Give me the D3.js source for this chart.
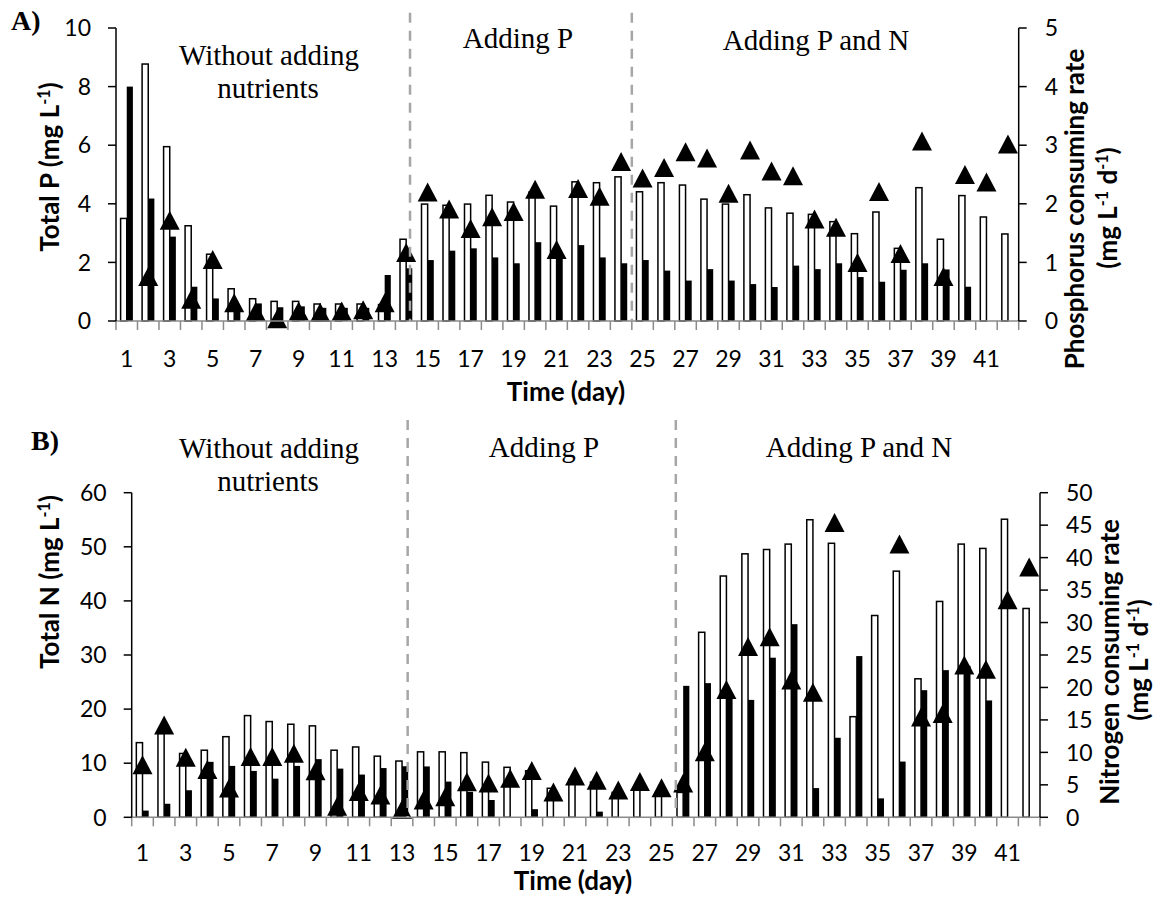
<!DOCTYPE html>
<html>
<head>
<meta charset="utf-8">
<script src="https://cdn.jsdelivr.net/npm/d3@7"></script>
<style>
  html, body { margin: 0; padding: 0; background: #fff; }
  svg { display: block; }
</style>
</head>
<body>
<svg id="chart" width="1161" height="899"></svg>
<script>
// ---- Data ---------------------------------------------------------------
const days = d3.range(1, 43);
const dayTickLabels = d3.range(1, 42, 2);

// Panel A: phosphorus
const totalP_open = [3.5, 8.77, 5.95, 3.25, 2.28, 1.10, 0.76, 0.67, 0.67, 0.58, 0.58, 0.58, 0.56, 2.79,
  3.99, 3.95, 3.99, 4.29, 4.06, 4.4, 3.92, 4.75, 4.72, 4.92, 4.41, 4.72, 4.64, 4.16,
  3.99, 4.31, 3.86, 3.68, 3.64, 3.39, 2.98, 3.72, 2.48, 4.55, 2.79, 4.28, 3.55, 2.97];
const totalP_filled = [8.0, 4.18, 2.88, 1.17, 0.77, 0.45, 0.6, 0.47, 0.5, 0.45, 0.45, 0.45, 1.57, 1.8,
  2.08, 2.4, 2.48, 2.17, 1.97, 2.69, 2.2, 2.59, 2.17, 1.97, 2.08, 1.72, 1.38, 1.77,
  1.38, 1.26, 1.16, 1.89, 1.77, 1.97, 1.5, 1.34, 1.75, 1.97, 1.76, 1.17, null, null];
const pRate = [null, 0.76, 1.72, 0.37, 1.05, 0.31, 0.16, 0.04, 0.17, 0.15, 0.17, 0.19, 0.31, 1.17,
  2.20, 1.91, 1.58, 1.78, 1.87, 2.25, 1.22, 2.26, 2.13, 2.72, 2.44, 2.62, 2.89, 2.78,
  2.18, 2.92, 2.56, 2.48, 1.74, 1.60, 1.00, 2.21, 1.15, 3.07, 0.76, 2.50, 2.37, 3.02];
const pLeftTicks = [0, 2, 4, 6, 8, 10];
const pRightTicks = [0, 1, 2, 3, 4, 5];

// Panel B: nitrogen
const totalN_open = [13.8, 15.5, 11.8, 12.4, 14.9, 18.8, 17.7, 17.2, 16.9, 12.4, 13.0, 11.3, 10.4, 12.1,
  12.1, 11.95, 10.2, 9.24, 8.6, 5.36, 7.0, 6.5, 4.6, 5.6, 4.6, 4.6, 34.2, 44.6,
  48.7, 49.5, 50.5, 55.0, 50.65, 18.6, 37.3, 45.5, 25.6, 39.9, 50.5, 49.7, 55.1, 38.6];
const totalN_filled = [1.24, 2.5, 5.0, 10.25, 9.5, 8.57, 7.14, 9.5, 10.75, 9.0, 7.9, 9.1, 9.44, 9.4,
  6.6, 4.7, 3.2, null, 1.5, null, null, 1.05, null, null, null, 24.3, 24.8, 22.0,
  21.7, 29.5, 35.7, 5.4, 14.7, 29.8, 3.5, 10.3, 23.5, 27.2, 28.0, 21.6, null, null];
const nRate = [8.1, 14.2, 9.26, 7.38, 4.53, 9.37, 9.37, 9.88, 7.17, 1.7, 3.96, 3.44, 1.24, 2.67,
  3.18, 5.49, 5.29, 6.0, 7.19, 3.9, 6.37, 5.7, 4.2, 5.5, 4.54, 5.29, 10.1, 19.7,
  26.3, 27.8, 21.15, 19.25, 45.4, null, null, 42.1, 15.45, 16.0, 23.46, 22.8, 33.5, 38.55];
const nLeftTicks = [0, 10, 20, 30, 40, 50, 60];
const nRightTicks = [0, 5, 10, 15, 20, 25, 30, 35, 40, 45, 50];

// Phase boundaries, in units of day slots from the start of the axis
const phaseBreaksA = [13.68, 24.0];
const phaseBreaksB = [12.76, 25.16];

// ---- Styling ------------------------------------------------------------
const SANS = "Lato, 'Open Sans', sans-serif";
const SERIF = "'Liberation Serif', 'Times New Roman', serif";
const AXIS_GREY = "#8a8a8a";
const DASH_GREY = "#a6a6a6";
const TICK_SIZE = 23;
const TITLE_SIZE = 26;

const svg = d3.select("#chart");

function trianglePath(cx, cy) {
  const hw = 10, hh = 9.5;
  return `M${cx},${cy - hh}L${cx + hw},${cy + hh}L${cx - hw},${cy + hh}Z`;
}

function supText(sel, parts, size) {
  // parts: array of [text, isSuperscript]
  parts.forEach(([t, sup]) => {
    const ts = sel.append("tspan").text(t);
    if (sup) ts.attr("font-size", size * 0.62).attr("baseline-shift", "super");
  });
}

function drawPanel(cfg) {
  const g = svg.append("g");
  const x = d3.scaleBand().domain(days).range([cfg.x0, cfg.x1]).paddingInner(0).paddingOuter(0);
  const slot = d3.scaleLinear().domain([0, days.length]).range([cfg.x0, cfg.x1]);
  const yL = d3.scaleLinear().domain(cfg.leftDomain).range([cfg.yBot, cfg.yTop]);
  const yR = d3.scaleLinear().domain(cfg.rightDomain).range([cfg.yBot, cfg.yTop]);
  const bw = x.bandwidth() / 3.5; // two bars per day, 150% gap

  const openData = days.map((d, i) => ({ d, v: cfg.open[i] })).filter(o => o.v != null);
  const filledData = days.map((d, i) => ({ d, v: cfg.filled[i] })).filter(o => o.v != null);
  const rateData = days.map((d, i) => ({ d, v: cfg.rate[i] })).filter(o => o.v != null);

  // open bars
  g.append("g").selectAll("rect").data(openData).join("rect")
    .attr("x", o => x(o.d) + x.bandwidth() / 2 - bw)
    .attr("y", o => yL(o.v))
    .attr("width", bw)
    .attr("height", o => yL(0) - yL(o.v))
    .attr("fill", "#fff").attr("stroke", "#000").attr("stroke-width", 1.5);

  // filled bars
  g.append("g").selectAll("rect").data(filledData).join("rect")
    .attr("x", o => x(o.d) + x.bandwidth() / 2)
    .attr("y", o => yL(o.v))
    .attr("width", bw)
    .attr("height", o => yL(0) - yL(o.v))
    .attr("fill", "#000");

  // consuming-rate markers
  g.append("g").selectAll("path").data(rateData).join("path")
    .attr("d", o => trianglePath(x(o.d) + x.bandwidth() / 2, yR(o.v)))
    .attr("fill", "#000");

  // category axis
  const xa = g.append("g");
  xa.append("line").attr("x1", cfg.x0).attr("x2", cfg.x1)
    .attr("y1", yL(0)).attr("y2", yL(0))
    .attr("stroke", AXIS_GREY).attr("stroke-width", 1.5);
  xa.selectAll("line.tk").data(d3.range(0, days.length + 1)).join("line")
    .attr("class", "tk")
    .attr("x1", k => slot(k)).attr("x2", k => slot(k))
    .attr("y1", yL(0)).attr("y2", yL(0) + 9)
    .attr("stroke", AXIS_GREY).attr("stroke-width", 1.5);
  xa.selectAll("text").data(dayTickLabels).join("text")
    .attr("x", d => x(d) + x.bandwidth() / 2)
    .attr("y", cfg.xLabelY)
    .attr("text-anchor", "middle")
    .attr("font-family", SANS).attr("font-size", TICK_SIZE).attr("fill", "#000")
    .text(d => d);

  // left value axis
  const la = g.append("g");
  la.append("line").attr("x1", cfg.x0).attr("x2", cfg.x0)
    .attr("y1", yL.range()[0]).attr("y2", yL.range()[1])
    .attr("stroke", "#000").attr("stroke-width", 1.5);
  la.selectAll("line.tk").data(cfg.leftTicks).join("line").attr("class", "tk")
    .attr("x1", cfg.x0 - 8).attr("x2", cfg.x0)
    .attr("y1", v => yL(v)).attr("y2", v => yL(v))
    .attr("stroke", "#000").attr("stroke-width", 1.5);
  la.selectAll("text").data(cfg.leftTicks).join("text")
    .attr("x", cfg.x0 - 25).attr("y", v => yL(v))
    .attr("dy", "0.36em").attr("text-anchor", "end")
    .attr("font-family", SANS).attr("font-size", TICK_SIZE).attr("fill", "#000")
    .text(v => v);

  // right value axis
  const ra = g.append("g");
  ra.append("line").attr("x1", cfg.x1).attr("x2", cfg.x1)
    .attr("y1", yR.range()[0]).attr("y2", yR.range()[1])
    .attr("stroke", "#000").attr("stroke-width", 1.5);
  ra.selectAll("line.tk").data(cfg.rightTicks).join("line").attr("class", "tk")
    .attr("x1", cfg.x1).attr("x2", cfg.x1 + 8)
    .attr("y1", v => yR(v)).attr("y2", v => yR(v))
    .attr("stroke", "#000").attr("stroke-width", 1.5);
  ra.selectAll("text").data(cfg.rightTicks).join("text")
    .attr("x", cfg.x1 + cfg.rightLabelGap).attr("y", v => yR(v))
    .attr("dy", "0.36em").attr("text-anchor", "start")
    .attr("font-family", SANS).attr("font-size", TICK_SIZE).attr("fill", "#000")
    .text(v => v);

  // phase separators
  g.append("g").selectAll("line").data(cfg.breaks).join("line")
    .attr("x1", s => slot(s)).attr("x2", s => slot(s))
    .attr("y1", cfg.dashTop).attr("y2", yL(0))
    .attr("stroke", DASH_GREY).attr("stroke-width", 2.5)
    .attr("stroke-dasharray", "10,8");

  // axis titles
  g.append("text")
    .attr("x", cfg.xTitle[0]).attr("y", cfg.xTitle[1])
    .attr("text-anchor", "middle")
    .attr("font-family", SANS).attr("font-weight", "bold").attr("font-size", TITLE_SIZE)
    .text("Time (day)");

  const lt = g.append("text")
    .attr("transform", `translate(${cfg.leftTitle[0]},${cfg.leftTitle[1]}) rotate(-90)`)
    .attr("text-anchor", "middle")
    .attr("font-family", SANS).attr("font-weight", "bold").attr("font-size", TITLE_SIZE);
  supText(lt, [[cfg.leftName + " (mg L", false], ["-1", true], [")", false]], TITLE_SIZE);

  g.append("text")
    .attr("transform", `translate(${cfg.rightTitle1[0]},${cfg.rightTitle1[1]}) rotate(-90)`)
    .attr("text-anchor", "middle")
    .attr("font-family", SANS).attr("font-weight", "bold").attr("font-size", TITLE_SIZE)
    .text(cfg.rightName);
  const rt2 = g.append("text")
    .attr("transform", `translate(${cfg.rightTitle2[0]},${cfg.rightTitle2[1]}) rotate(-90)`)
    .attr("text-anchor", "middle")
    .attr("font-family", SANS).attr("font-weight", "bold").attr("font-size", TITLE_SIZE);
  supText(rt2, [["(mg L", false], ["-1", true], [" d", false], ["-1", true], [")", false]], TITLE_SIZE);

  // phase captions
  cfg.captions.forEach(c => {
    g.append("text")
      .attr("x", c[1]).attr("y", c[2])
      .attr("text-anchor", "middle")
      .attr("font-family", SERIF).attr("font-size", 29)
      .text(c[0]);
  });

  // panel letter
  g.append("text")
    .attr("x", cfg.letter[1]).attr("y", cfg.letter[2])
    .attr("font-family", SERIF).attr("font-weight", "bold").attr("font-size", 28)
    .text(cfg.letter[0]);
}

drawPanel({
  x0: 116, x1: 1018.7, yTop: 28, yBot: 321,
  leftDomain: [0, 10], rightDomain: [0, 5],
  leftTicks: pLeftTicks, rightTicks: pRightTicks,
  open: totalP_open, filled: totalP_filled, rate: pRate,
  breaks: phaseBreaksA, dashTop: 12.7,
  xLabelY: 367, rightLabelGap: 26,
  xTitle: [566, 401],
  leftName: "Total P", leftTitle: [59, 167],
  rightName: "Phosphorus consuming rate",
  rightTitle1: [1084, 209], rightTitle2: [1117, 208],
  captions: [["Without adding", 269, 65], ["nutrients", 268, 98],
             ["Adding P", 518, 48], ["Adding P and N", 816, 50]],
  letter: ["A)", 11, 30]
});

drawPanel({
  x0: 131.7, x1: 1040, yTop: 492.7, yBot: 817.3,
  leftDomain: [0, 60], rightDomain: [0, 50],
  leftTicks: nLeftTicks, rightTicks: nRightTicks,
  open: totalN_open, filled: totalN_filled, rate: nRate,
  breaks: phaseBreaksB, dashTop: 420,
  xLabelY: 861, rightLabelGap: 26,
  xTitle: [573, 890],
  leftName: "Total N", leftTitle: [59, 582],
  rightName: "Nitrogen consuming rate",
  rightTitle1: [1119, 662], rightTitle2: [1148, 660],
  captions: [["Without adding", 269, 458], ["nutrients", 268, 491],
             ["Adding P", 544, 457], ["Adding P and N", 859, 457]],
  letter: ["B)", 31, 450]
});
</script>
</body>
</html>
